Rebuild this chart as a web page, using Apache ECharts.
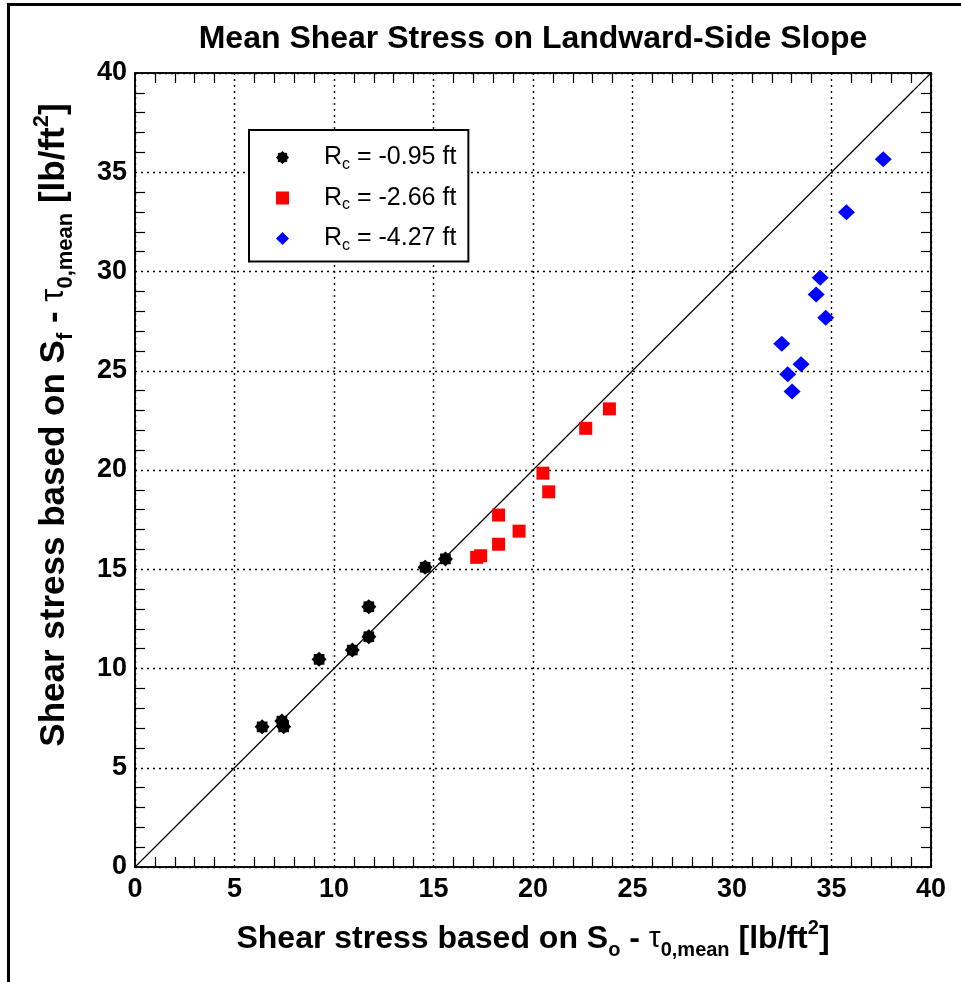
<!DOCTYPE html>
<html><head><meta charset="utf-8">
<script src="https://cdn.jsdelivr.net/npm/echarts@6/dist/echarts.min.js"></script>
<style>html,body{margin:0;padding:0;background:#fff}#c{width:961px;height:982px}</style>
</head><body><div id="c"></div>
<script>
// ---- data ----
const seriesNames = ['Rc = -0.95 ft', 'Rc = -2.66 ft', 'Rc = -4.27 ft'];
const blackX = [6.39, 7.38, 7.47, 9.25, 10.92, 11.75, 11.75, 14.58, 15.60];
const blackY = [7.06, 7.35, 7.06, 10.46, 10.93, 11.60, 13.11, 15.10, 15.52];
const redX = [17.17, 17.37, 18.27, 18.27, 19.30, 20.50, 20.79, 22.65, 23.84];
const redY = [15.60, 15.68, 16.26, 17.73, 16.92, 19.84, 18.90, 22.10, 23.08];
const blueX = [32.50, 32.80, 33.02, 33.47, 34.23, 34.43, 34.71, 35.75, 37.60];
const blueY = [26.36, 24.82, 23.96, 25.33, 28.84, 29.69, 27.67, 32.98, 35.65];
const diagX = [0, 40];
const diagY = [0, 40];
const axisMin = 0, axisMax = 40, axisStep = 5;

const FONT = 'Liberation Sans, Arial, Helvetica, sans-serif';
const pair = (xs, ys) => xs.map((x, i) => [x, ys[i]]);

function starPath(n, r1, r2) {
  let d = '';
  for (let i = 0; i < 2 * n; i++) {
    const r = i % 2 ? r2 : r1;
    const a = Math.PI * i / n - Math.PI / 2;
    d += (i ? 'L' : 'M') + (r * Math.cos(a)).toFixed(3) + ' ' + (r * Math.sin(a)).toFixed(3);
  }
  return 'path://' + d + 'Z';
}
const STAR = starPath(8, 10, 7.8);

function nameRich(sz, lh, subSz) {
  return {
    m: {fontSize: sz, fontWeight: 'bold', fontFamily: FONT, color: '#000', lineHeight: lh, verticalAlign: 'middle'},
    t: {fontSize: sz - 2, fontFamily: FONT, color: '#000', lineHeight: lh, verticalAlign: 'middle'},
    s: {fontSize: subSz, fontWeight: 'bold', fontFamily: FONT, color: '#000', verticalAlign: 'bottom'},
    p: {fontSize: subSz, fontWeight: 'bold', fontFamily: FONT, color: '#000', verticalAlign: 'top'}
  };
}

const tickLabel = {color: '#000', fontSize: 27, fontWeight: 'bold', fontFamily: FONT};
const gridDots = {show: true, lineStyle: {color: '#000', type: [2, 4], width: 1.4}};
const minor = {show: true, splitNumber: 5, length: 10, lineStyle: {color: '#000', width: 1.2}};
const axLine = {show: true, onZero: false, lineStyle: {color: '#000', width: 1.5}};

const chart = echarts.init(document.getElementById('c'), null, {renderer: 'canvas'});
chart.setOption({
  backgroundColor: '#fff',
  animation: false,
  title: {
    text: 'Mean Shear Stress on Landward-Side Slope',
    left: 533, textAlign: 'center', top: 23, padding: 0,
    textStyle: {fontSize: 32, fontWeight: 'bold', fontFamily: FONT, color: '#000'}
  },
  grid: {left: 135, right: 30, top: 73, bottom: 115, show: true, borderColor: '#000', borderWidth: 1.5, backgroundColor: '#fff'},
  legend: {
    data: seriesNames,
    orient: 'vertical',
    left: 249, top: 130,
    padding: [15, 12, 8, 27],
    itemGap: 13,
    itemWidth: 13, itemHeight: 13,
    borderColor: '#000', borderWidth: 2, backgroundColor: '#fff',
    selectedMode: false,
    formatter: name => '{a|R}{s|c}{b|' + name.replace('Rc', '') + '}',
    textStyle: {
      rich: {
        a: {fontSize: 25, fontFamily: FONT, color: '#000', lineHeight: 30, verticalAlign: 'middle', padding: [0, 0, 0, 30]},
        s: {fontSize: 16, fontFamily: FONT, color: '#000', verticalAlign: 'bottom'},
        b: {fontSize: 25, fontFamily: FONT, color: '#000', lineHeight: 30, verticalAlign: 'middle'}
      }
    }
  },
  xAxis: [
    {
      type: 'value', min: axisMin, max: axisMax, interval: axisStep, position: 'bottom',
      axisLine: axLine, axisTick: {show: false, inside: true}, minorTick: minor,
      axisLabel: Object.assign({margin: 9}, tickLabel),
      splitLine: gridDots,
      name: '{m|Shear stress based on S}{s|o}{m| - }{t|τ}{s|0,mean}{m| [lb/ft}{p|2}{m|]}',
      nameLocation: 'middle', nameGap: 51,
      nameTextStyle: {rich: nameRich(32, 42, 20)}
    },
    {
      type: 'value', min: axisMin, max: axisMax, interval: axisStep, position: 'top',
      axisLine: axLine, axisTick: {show: false, inside: true}, minorTick: minor,
      axisLabel: {show: false}, splitLine: {show: false}
    }
  ],
  yAxis: [
    {
      type: 'value', min: axisMin, max: axisMax, interval: axisStep, position: 'left',
      axisLine: axLine, axisTick: {show: false, inside: true}, minorTick: minor,
      axisLabel: Object.assign({margin: 8}, tickLabel),
      splitLine: gridDots,
      name: '{m|Shear stress based on S}{s|f}{m| - }{t|τ}{s|0,mean}{m| [lb/ft}{p|2}{m|]}',
      nameLocation: 'middle', nameGap: 58,
      nameTextStyle: {rich: nameRich(35, 46, 22), padding: [0, 0, 0, 90]}
    },
    {
      type: 'value', min: axisMin, max: axisMax, interval: axisStep, position: 'right',
      axisLine: axLine, axisTick: {show: false, inside: true}, minorTick: minor,
      axisLabel: {show: false}, splitLine: {show: false}
    }
  ],
  series: [
    {
      type: 'line', data: pair(diagX, diagY), showSymbol: false, silent: true,
      lineStyle: {color: '#000', width: 1.2}, z: 2
    },
    {
      name: seriesNames[0], type: 'scatter', data: pair(blackX, blackY),
      symbol: STAR, symbolSize: 15, itemStyle: {color: '#000', opacity: 1}, z: 3
    },
    {
      name: seriesNames[1], type: 'scatter', data: pair(redX, redY),
      symbol: 'rect', symbolSize: 13, itemStyle: {color: '#ff0000', opacity: 1}, z: 3
    },
    {
      name: seriesNames[2], type: 'scatter', data: pair(blueX, blueY),
      symbol: 'diamond', symbolSize: [17, 16], itemStyle: {color: '#0000ff', opacity: 1}, z: 3
    }
  ],
  graphic: [
    {type: 'rect', shape: {x: 7, y: 3, width: 3, height: 979}, style: {fill: '#000'}, z: 100},
    {type: 'rect', shape: {x: 7, y: 3, width: 954, height: 3}, style: {fill: '#000'}, z: 100}
  ]
});
</script>
</body></html>
